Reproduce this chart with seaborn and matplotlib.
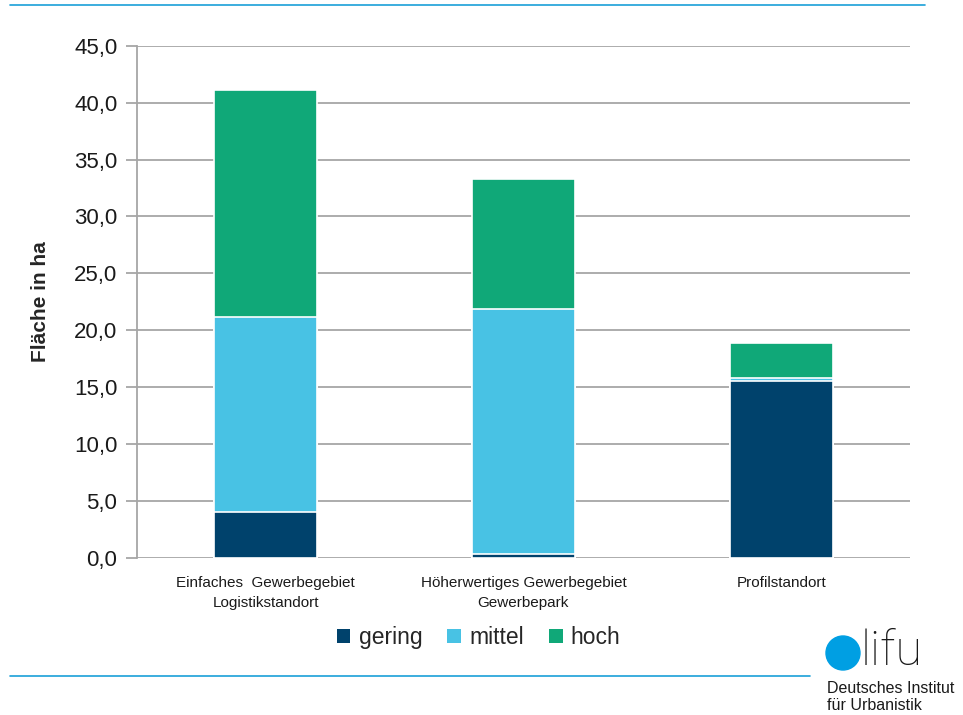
import numpy as np
import pandas as pd
import seaborn as sns
import matplotlib.pyplot as plt
from matplotlib.patches import Patch, Circle
from matplotlib.lines import Line2D
from matplotlib.ticker import FuncFormatter

# data
categories = ['Einfaches  Gewerbegebiet\nLogistikstandort',
              'Höherwertiges Gewerbegebiet\nGewerbepark',
              'Profilstandort']
gering = [4.0, 0.3, 15.5]
mittel = [17.2, 21.6, 0.3]
hoch = [19.9, 11.4, 3.1]
series = ['gering', 'mittel', 'hoch']
colors = {'gering': '#00426c', 'mittel': '#48c2e4', 'hoch': '#10a878'}

df = pd.DataFrame({'cat': categories, 'gering': gering, 'mittel': mittel, 'hoch': hoch})
df['c_gering'] = df['gering']
df['c_mittel'] = df['c_gering'] + df['mittel']
df['c_hoch'] = df['c_mittel'] + df['hoch']

sns.set_style('white')
plt.rcParams['font.family'] = ['Liberation Sans', 'DejaVu Sans']

fig = plt.figure(figsize=(9.63, 7.15), dpi=100)
ax = fig.add_axes([0.142, 0.220, 0.803, 0.716])

# stacked bars: draw cumulative heights, top layer first
for s in ['hoch', 'mittel', 'gering']:
    sns.barplot(data=df, x='cat', y='c_' + s, color=colors[s], width=0.4,
                edgecolor='white', linewidth=1.2, saturation=1, ax=ax, zorder=3)

ax.set_ylim(0, 45)
ax.set_xlim(-0.5, 2.5)
ax.set_yticks(np.arange(0, 46, 5))
ax.yaxis.set_major_formatter(FuncFormatter(lambda v, p: f'{v:.1f}'.replace('.', ',')))
ax.grid(axis='y', color='#a6a6a6', linewidth=1.3, zorder=0)
ax.set_axisbelow(True)
for sp in ['top', 'right', 'bottom']:
    ax.spines[sp].set_visible(False)
ax.spines['left'].set_color('#a6a6a6')
ax.spines['left'].set_linewidth(1.3)
ax.tick_params(axis='y', which='major', length=8, width=1.3, color='#a6a6a6',
               labelsize=16, pad=6, labelcolor='#1a1a1a', left=True)
ax.tick_params(axis='x', length=0, labelsize=11, pad=13, labelcolor='#1a1a1a')
for t in ax.get_xticklabels():
    t.set_linespacing(1.55)
ax.set_xlabel('')
ax.set_ylabel('Fläche in ha', fontsize=15, fontweight='bold', labelpad=17)

handles = [Patch(facecolor=colors[s], edgecolor='none') for s in series]
fig.legend(handles, series, loc='center', bbox_to_anchor=(0.497, 0.108), ncol=3,
           frameon=False, fontsize=16.5, handlelength=0.6, handleheight=0.6,
           handletextpad=0.35, columnspacing=1.1)

# frame lines
fig.add_artist(Line2D([0.010, 0.961], [0.993, 0.993], color='#1aa0d8', linewidth=1.2))
fig.add_artist(Line2D([0.010, 0.841], [0.0545, 0.0545], color='#1aa0d8', linewidth=1.2))

# logo
fig.add_artist(Circle((843, 715 - 653), 17, transform=None, color='#009fe3'))
fig.text(0.894, 0.070, 'lifu', fontsize=35, family='Roboto', fontweight='light',
         ha='left', va='baseline', color='#1a1a1a')
fig.text(0.859, 0.031, 'Deutsches Institut', fontsize=11.5, color='#1a1a1a', va='baseline')
fig.text(0.859, 0.007, 'für Urbanistik', fontsize=11.5, color='#1a1a1a', va='baseline')

fig.savefig('out.png', dpi=100)
